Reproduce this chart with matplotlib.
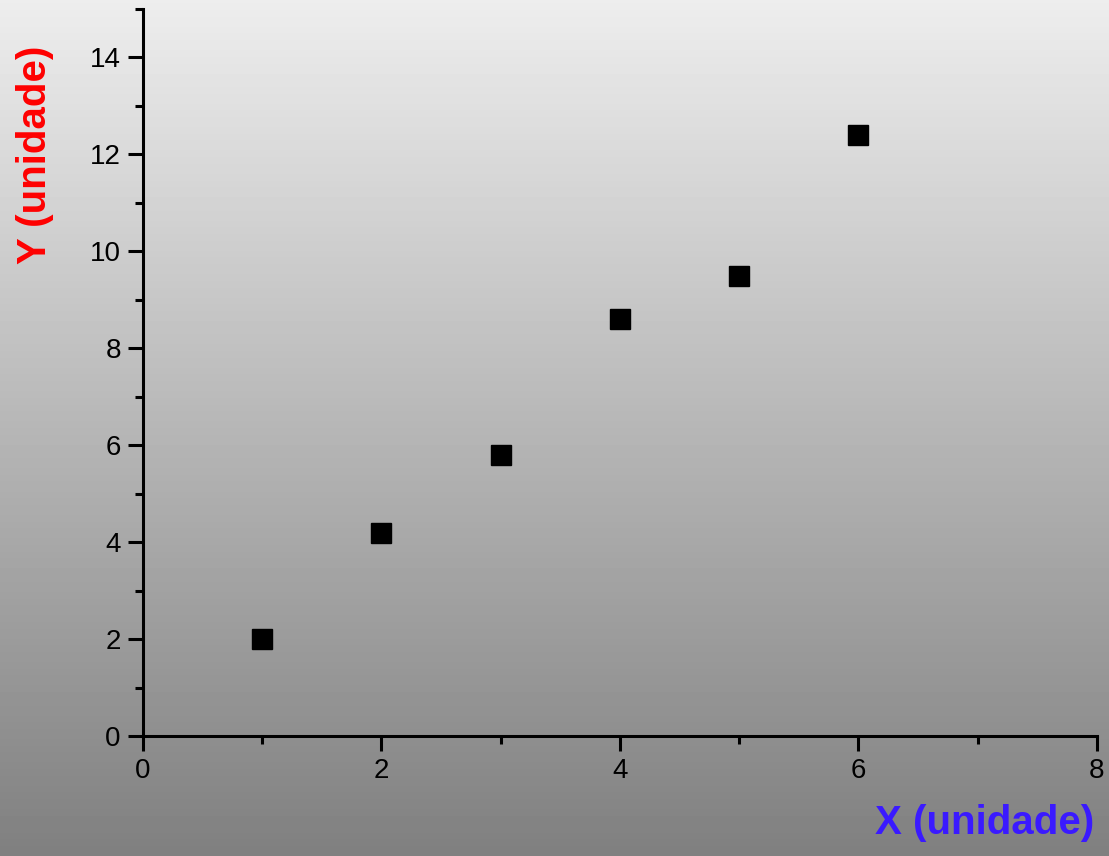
import numpy as np
import matplotlib.pyplot as plt
from matplotlib.ticker import MultipleLocator

# data
x = [1, 2, 3, 4, 5, 6]
y = [2.0, 4.2, 5.8, 8.6, 9.5, 12.4]

plt.rcParams['font.family'] = ['Liberation Sans', 'DejaVu Sans']

fig = plt.figure(figsize=(11.09, 8.56), dpi=100)

# grey gradient background, light at top, darker at bottom
bg = fig.add_axes([0, 0, 1, 1], zorder=-10)
grad = np.linspace(0.93, 0.50, 256).reshape(-1, 1)
bg.imshow(grad, aspect='auto', cmap='gray', vmin=0, vmax=1,
          extent=[0, 1, 0, 1], origin='upper')
bg.axis('off')

ax = fig.add_axes([0.129, 0.140, 0.860, 0.8495])
ax.patch.set_alpha(0)
ax.plot(x, y, 's', color='black', markersize=15, clip_on=False)

ax.set_xlim(0, 8)
ax.set_ylim(0, 15)
ax.xaxis.set_major_locator(MultipleLocator(2))
ax.xaxis.set_minor_locator(MultipleLocator(1))
ax.yaxis.set_major_locator(MultipleLocator(2))
ax.yaxis.set_minor_locator(MultipleLocator(1))
for s in ['top', 'right']:
    ax.spines[s].set_visible(False)
for s in ['left', 'bottom']:
    ax.spines[s].set_linewidth(2.2)
ax.tick_params(which='major', direction='out', length=11, width=2.2, labelsize=20, pad=5)
ax.tick_params(which='minor', direction='out', length=5.5, width=2.2)

fig.text(0.987, 0.016, 'X (unidade)', color='#3a1aff', fontsize=29,
         fontweight='bold', ha='right', va='bottom')
fig.text(0.032, 0.819, 'Y (unidade)', color='#ff0000', fontsize=29,
         fontweight='bold', ha='center', va='center', rotation=90)

fig.savefig('out.png', dpi=100)
